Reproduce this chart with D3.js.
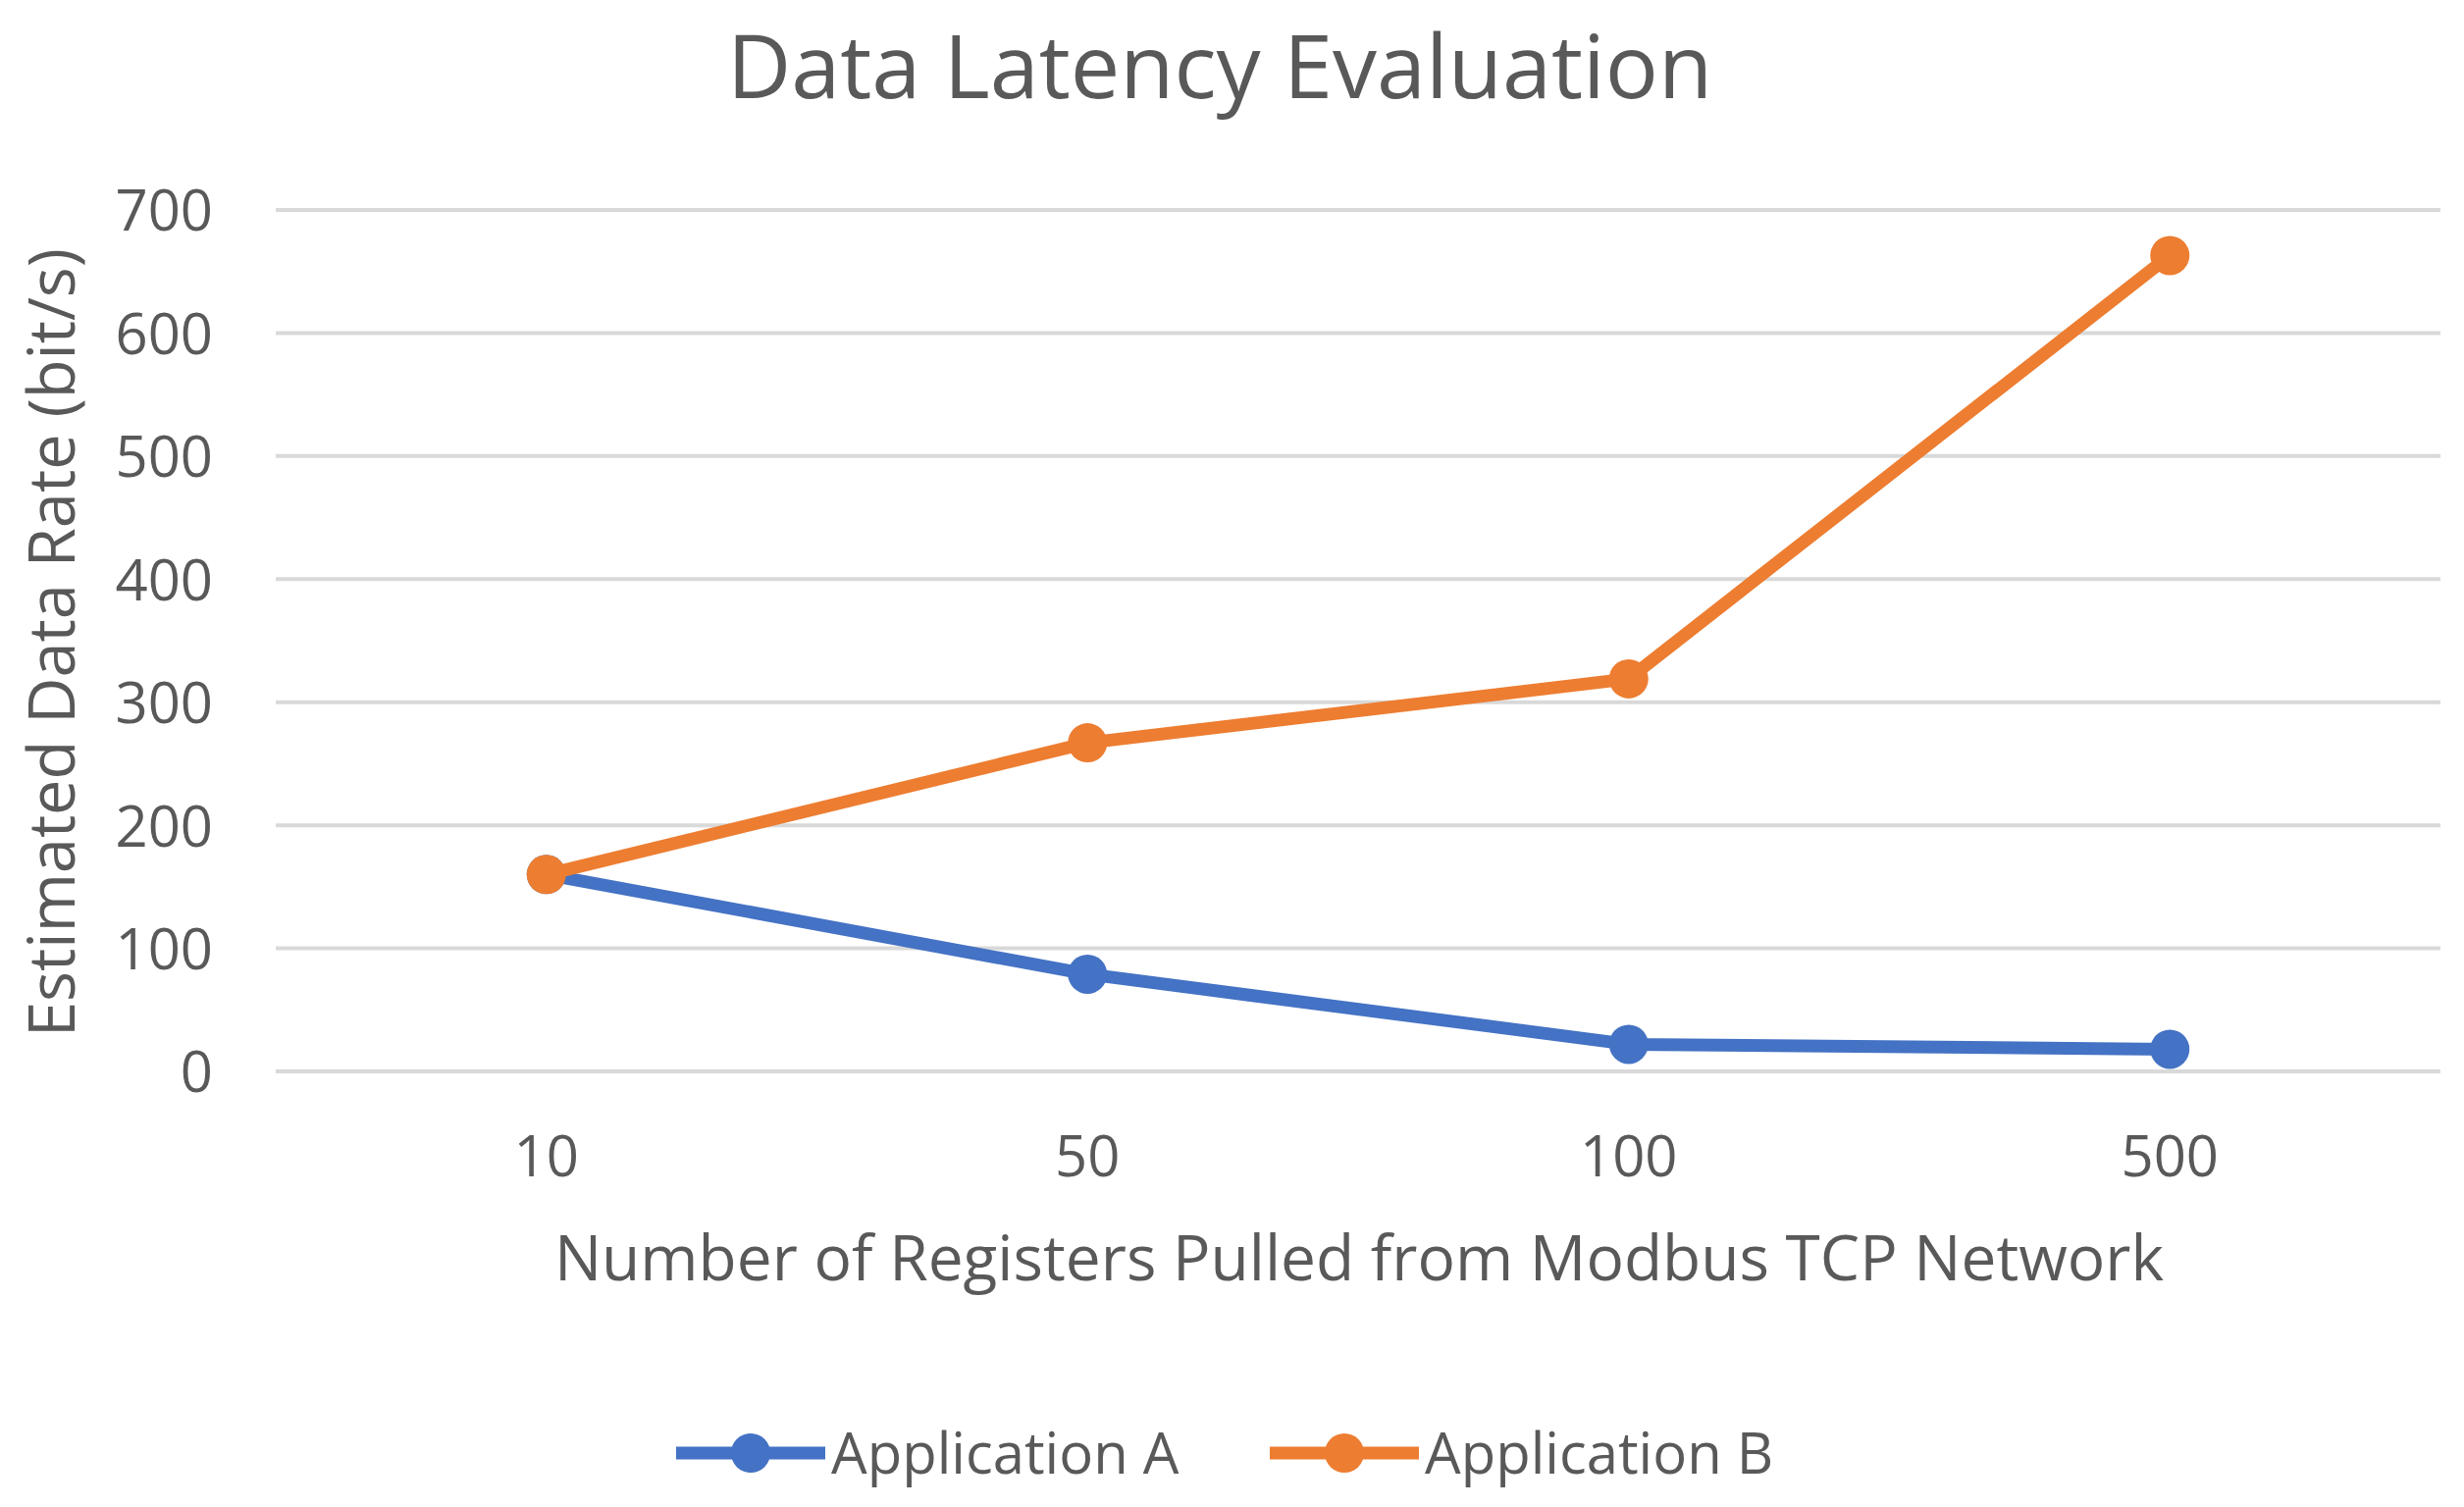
<!DOCTYPE html>
<html>
<head>
<meta charset="utf-8">
<script src="https://cdn.jsdelivr.net/npm/d3@7"></script>
<style>
  body { margin: 0; background: #fff; }
  text { font-family: 'Open Sans', 'Noto Sans', sans-serif; fill: #595959; }
</style>
</head>
<body>
<svg id="chart" width="2511" height="1536"></svg>
<script>
const categories = ['10', '50', '100', '500'];
const appA = [160, 79, 22, 18];
const appB = [160, 267, 319, 663];
const yTicks = [0, 100, 200, 300, 400, 500, 600, 700];
const seriesNames = ['Application A', 'Application B'];
const colors = ['#4472C4', '#ED7D31'];

const width = 2511;
const height = 1536;
const margin = { top: 214, right: 24, bottom: 444, left: 281 };

const svg = d3.select('#chart');
const g = svg.append('g');

const x = d3.scaleBand()
  .domain(categories)
  .range([margin.left, width - margin.right]);

const y = d3.scaleLinear()
  .domain([0, 700])
  .range([height - margin.bottom, margin.top]);

// gridlines
g.append('g')
  .selectAll('line')
  .data(yTicks)
  .join('line')
  .attr('x1', margin.left)
  .attr('x2', width - margin.right)
  .attr('y1', d => y(d))
  .attr('y2', d => y(d))
  .attr('stroke', '#d9d9d9')
  .attr('stroke-width', 4);

// y axis
const yAxis = g.append('g')
  .attr('transform', `translate(${margin.left - 64},0)`)
  .call(d3.axisLeft(y).tickValues(yTicks).tickSize(0).tickPadding(0));
yAxis.select('.domain').remove();
yAxis.selectAll('text')
  .style('font-size', '58px')
  .style('fill', '#595959')
  .attr('dy', '0.36em');

// x axis
const xAxis = g.append('g')
  .attr('transform', `translate(0,${height - margin.bottom})`)
  .call(d3.axisBottom(x).tickSize(0).tickPadding(66));
xAxis.select('.domain').remove();
xAxis.selectAll('text')
  .style('font-size', '58px')
  .style('fill', '#595959');

// titles
svg.append('text')
  .attr('x', 1243)
  .attr('y', 100)
  .attr('text-anchor', 'middle')
  .style('font-size', '90px')
  .text('Data Latency Evaluation');

svg.append('text')
  .attr('x', 1385)
  .attr('y', 1305)
  .attr('text-anchor', 'middle')
  .style('font-size', '64px')
  .text('Number of Registers Pulled from Modbus TCP Network');

svg.append('text')
  .attr('transform', 'translate(76,655) rotate(-90)')
  .attr('text-anchor', 'middle')
  .style('font-size', '65px')
  .text('Estimated Data Rate (bit/s)');

// lines and markers
const series = [appA, appB];
const line = d3.line()
  .x((d, i) => x(categories[i]) + x.bandwidth() / 2)
  .y(d => y(d));

series.forEach((values, s) => {
  g.append('path')
    .datum(values)
    .attr('fill', 'none')
    .attr('stroke', colors[s])
    .attr('stroke-width', 13)
    .attr('stroke-linejoin', 'round')
    .attr('d', line);

  g.append('g')
    .selectAll('circle')
    .data(values)
    .join('circle')
    .attr('cx', (d, i) => x(categories[i]) + x.bandwidth() / 2)
    .attr('cy', d => y(d))
    .attr('r', 20)
    .attr('fill', colors[s]);
});

// legend
const legendX = [689, 1294];
const legend = svg.append('g')
  .selectAll('g')
  .data(seriesNames)
  .join('g')
  .attr('transform', (d, i) => `translate(${legendX[i]},1481)`);

legend.append('line')
  .attr('x1', 0)
  .attr('x2', 152)
  .attr('stroke', (d, i) => colors[i])
  .attr('stroke-width', 13);

legend.append('circle')
  .attr('cx', 76)
  .attr('r', 20)
  .attr('fill', (d, i) => colors[i]);

legend.append('text')
  .attr('x', 158)
  .attr('dy', '0.36em')
  .style('font-size', '58px')
  .text(d => d);
</script>
</body>
</html>
